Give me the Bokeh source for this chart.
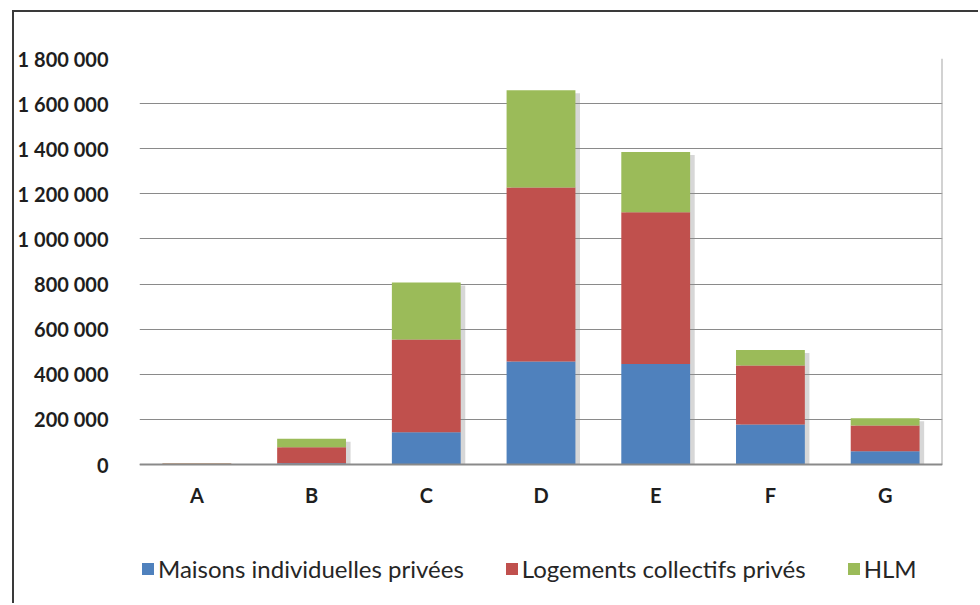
from bokeh.plotting import figure
from bokeh.models import ColumnDataSource, FactorRange, Range1d, FixedTicker, Legend, LegendItem
from bokeh.transform import dodge
from bokeh.embed import file_html
from bokeh.resources import INLINE

categories = ["A", "B", "C", "D", "E", "F", "G"]
maisons = [2000, 6000, 143000, 457000, 446000, 177000, 59000]
logements = [3000, 71000, 411000, 771000, 672000, 262000, 114000]
hlm = [1000, 37000, 253000, 431000, 267000, 69000, 32000]
series_names = ["Maisons individuelles privées", "Logements collectifs privés", "HLM"]
y_ticks = [0, 200000, 400000, 600000, 800000, 1000000, 1200000, 1400000, 1600000, 1800000]
y_tick_labels = ["0", "200 000", "400 000", "600 000", "800 000", "1 000 000",
                 "1 200 000", "1 400 000", "1 600 000", "1 800 000"]

colors = ["#4F81BD", "#C0504D", "#9BBB59"]
keys = ["maisons", "logements", "hlm"]

totals = [a + b + c for a, b, c in zip(maisons, logements, hlm)]
shadow_drop = 13000
source = ColumnDataSource(data=dict(
    cat=categories, maisons=maisons, logements=logements, hlm=hlm,
    shadow_top=[max(0, t - shadow_drop) for t in totals],
))

# the frame reaches below the zero line so the category axis and legend sit inside it
p = figure(
    width=966, height=593,
    x_range=FactorRange(factors=categories),
    y_range=Range1d(-616000, 1800000),
    output_backend="svg", toolbar_location=None,
    min_border_left=121, min_border_right=38, min_border_top=46, min_border_bottom=2,
    margin=(10, 0, 0, 12),
)
p.styles = {"border-left": "2px solid #3a3a3a", "border-top": "2px solid #3a3a3a"}
p.outline_line_color = None
p.background_fill_color = "white"
p.border_fill_color = "white"

# soft shadow behind the stacks
p.vbar(x=dodge("cat", 0.04, range=p.x_range), top="shadow_top", bottom=0, width=0.6,
       fill_color="#8c8c8c", fill_alpha=0.35, line_color=None, source=source)

renderers = p.vbar_stack(keys, x="cat", width=0.6, color=colors, line_color=None, source=source)

# right border of the plot area
p.segment(x0=[len(categories)], x1=[len(categories)], y0=[y_ticks[0]], y1=[y_ticks[-1]],
          line_color="#a6a6a6", line_width=2)

p.xgrid.grid_line_color = None
p.ygrid.grid_line_color = "#8a8a8a"
p.ygrid.grid_line_width = 1
p.ygrid.ticker = FixedTicker(ticks=y_ticks)

p.yaxis.ticker = FixedTicker(ticks=y_ticks)
p.yaxis.major_label_overrides = {t: l for t, l in zip(y_ticks, y_tick_labels)}
p.yaxis.axis_line_color = None
p.yaxis.major_tick_line_color = None
p.yaxis.minor_tick_line_color = None
p.yaxis.major_label_standoff = 25
p.yaxis.major_label_text_font = "Lato"
p.yaxis.major_label_text_font_style = "bold"
p.yaxis.major_label_text_font_size = "20px"
p.yaxis.major_label_text_color = "#1e1e1e"

p.xaxis.fixed_location = 0
p.xaxis.axis_line_color = "#8a8a8a"
p.xaxis.axis_line_width = 2
p.xaxis.major_tick_line_color = None
p.xaxis.minor_tick_line_color = None
p.xaxis.major_label_standoff = 12
p.xaxis.major_label_text_font = "Lato"
p.xaxis.major_label_text_font_style = "bold"
p.xaxis.major_label_text_font_size = "20px"
p.xaxis.major_label_text_color = "#1e1e1e"

legend = Legend(
    items=[LegendItem(label=n, renderers=[r]) for n, r in zip(series_names, renderers)],
    orientation="horizontal", location=(1, 20),
    glyph_width=15, glyph_height=15, label_standoff=3, spacing=40,
    padding=0, margin=0, border_line_color=None, background_fill_alpha=0,
    label_text_font="Lato", label_text_font_size="24px", label_text_color="#262626",
    label_height=20,
)
p.add_layout(legend, "center")

open("out.html", "w").write(file_html(p, INLINE))
